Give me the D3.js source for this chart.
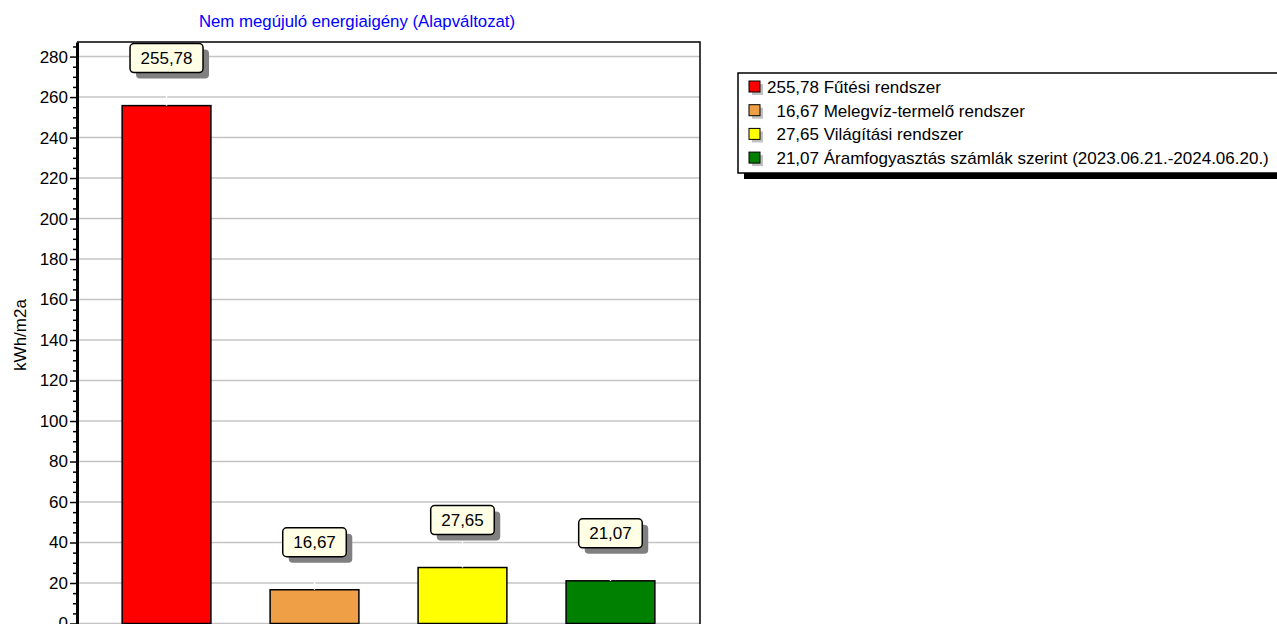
<!DOCTYPE html>
<html>
<head>
<meta charset="utf-8">
<script src="https://cdn.jsdelivr.net/npm/d3@7"></script>
<style>
  body { margin: 0; background: #fff; }
  svg { display: block; font-family: "Liberation Sans", Arial, sans-serif; }
</style>
</head>
<body>
<svg id="chart" width="1277" height="624"></svg>
<script>
// Chart data
const categories = ['Fűtési rendszer', 'Melegvíz-termelő rendszer', 'Világítási rendszer', 'Áramfogyasztás számlák szerint (2023.06.21.-2024.06.20.)'];
const values = [255.78, 16.67, 27.65, 21.07];
const colors = ['#ff0000', '#efa046', '#ffff00', '#008000'];
const yTicks = [0, 20, 40, 60, 80, 100, 120, 140, 160, 180, 200, 220, 240, 260, 280];
const title = 'Nem megújuló energiaigény (Alapváltozat)';
const yLabel = 'kWh/m2a';

const fmt = v => v.toFixed(2).replace('.', ',');
const fontSize = '17px';

const svg = d3.select('#chart');
const plot = {left: 77, right: 700, top: 42, bottom: 623.5};

// Scales
const x = d3.scaleBand()
    .domain(categories)
    .range([plot.left, plot.right])
    .paddingInner(0.4)
    .paddingOuter(0.305);

const y = d3.scaleLinear()
    .domain([0, 287.2])
    .range([plot.bottom, plot.top]);

// Grid lines
svg.append('g')
    .selectAll('line')
    .data(yTicks)
    .enter().append('line')
    .attr('x1', plot.left)
    .attr('x2', plot.right)
    .attr('y1', d => y(d))
    .attr('y2', d => y(d))
    .style('stroke', '#c4c4c4')
    .style('stroke-width', 1.5);

// Plot frame (top + right)
svg.append('path')
    .attr('d', `M${plot.left},${plot.top}H${plot.right}V${plot.bottom + 2}`)
    .style('fill', 'none')
    .style('stroke', '#000')
    .style('stroke-width', 1.5);

// Minor ticks
const minorTicks = d3.range(0, 290, 5).filter(v => v % 20 !== 0 && y(v) >= plot.top);
svg.append('g')
    .attr('transform', `translate(${plot.left},0)`)
    .call(d3.axisLeft(y).tickValues(minorTicks).tickSize(4).tickFormat(''))
    .call(g => g.select('.domain').remove())
    .selectAll('line').style('stroke-width', 1.5);

// Major axis
const yAxis = svg.append('g')
    .attr('transform', `translate(${plot.left},0)`)
    .call(d3.axisLeft(y).tickValues(yTicks).tickSize(7).tickSizeOuter(0).tickPadding(2));
yAxis.select('.domain').style('stroke-width', 3);
yAxis.selectAll('.tick line').style('stroke-width', 1.5);
yAxis.selectAll('text')
    .style('font-size', fontSize)
    .style('font-family', '"Liberation Sans", Arial, sans-serif')
    .attr('fill', '#000');

// Bars
svg.selectAll('.bar')
    .data(values)
    .enter().append('rect')
    .attr('class', 'bar')
    .attr('x', (d, i) => x(categories[i]))
    .attr('y', d => y(d))
    .attr('width', x.bandwidth())
    .attr('height', d => y(0) - y(d))
    .style('fill', (d, i) => colors[i])
    .style('stroke', '#000')
    .style('stroke-width', 1.5);

// Value labels with leader line
const boxH = 29;
const labels = svg.selectAll('.vlabel')
    .data(values)
    .enter().append('g')
    .attr('class', 'vlabel')
    .attr('transform', (d, i) => `translate(${x(categories[i]) + x.bandwidth() / 2},${y(d) - 33})`);

labels.append('line')
    .attr('x1', 0).attr('x2', 0)
    .attr('y1', 0).attr('y2', 33)
    .style('stroke', '#fff')
    .style('stroke-width', 1.5);

labels.each(function(d) {
    const g = d3.select(this);
    const shadow = g.append('rect');
    const box = g.append('rect');
    const t = g.append('text')
        .attr('x', 0)
        .attr('y', -boxH / 2)
        .attr('dy', '0.36em')
        .attr('text-anchor', 'middle')
        .style('font-size', fontSize)
        .text(fmt(d));
    const w = t.node().getComputedTextLength() + 21;
    shadow.attr('x', -w / 2 + 6).attr('y', -boxH + 6)
        .attr('width', w).attr('height', boxH)
        .attr('rx', 4)
        .style('fill', '#808080');
    box.attr('x', -w / 2).attr('y', -boxH)
        .attr('width', w).attr('height', boxH)
        .attr('rx', 4)
        .style('fill', '#ffffe6')
        .style('stroke', '#000')
        .style('stroke-width', 1.5);
});

// Title
svg.append('text')
    .attr('x', 357)
    .attr('y', 27)
    .attr('text-anchor', 'middle')
    .style('font-size', '16.8px')
    .style('fill', '#0000ff')
    .text(title);

// Y axis label
svg.append('text')
    .attr('transform', 'translate(26,335) rotate(-90)')
    .attr('text-anchor', 'middle')
    .style('font-size', fontSize)
    .text(yLabel);

// Legend
const legend = {x: 738, y: 73, w: 560, h: 100};
svg.append('rect')
    .attr('x', legend.x + 6).attr('y', legend.y + 6)
    .attr('width', legend.w).attr('height', legend.h)
    .style('fill', '#000');
svg.append('rect')
    .attr('x', legend.x).attr('y', legend.y)
    .attr('width', legend.w).attr('height', legend.h)
    .style('fill', '#fff')
    .style('stroke', '#000')
    .style('stroke-width', 1.5);

const items = svg.selectAll('.litem')
    .data(categories)
    .enter().append('g')
    .attr('class', 'litem')
    .attr('transform', (d, i) => `translate(749,${87 + i * 23.7})`);

items.append('rect')
    .attr('x', 3).attr('y', -3)
    .attr('width', 11).attr('height', 11)
    .style('fill', '#c0c0c0');
items.append('rect')
    .attr('x', 0).attr('y', -6)
    .attr('width', 11).attr('height', 11)
    .style('fill', (d, i) => colors[i])
    .style('stroke', '#000')
    .style('stroke-width', 1);
items.append('text')
    .attr('x', 18)
    .attr('y', 0)
    .attr('dy', '0.35em')
    .style('font-size', fontSize)
    .style('white-space', 'pre')
    .text((d, i) => {
        const v = fmt(values[i]);
        return (v.length < 6 ? '  ' : '') + v + ' ' + d;
    });
</script>
</body>
</html>
